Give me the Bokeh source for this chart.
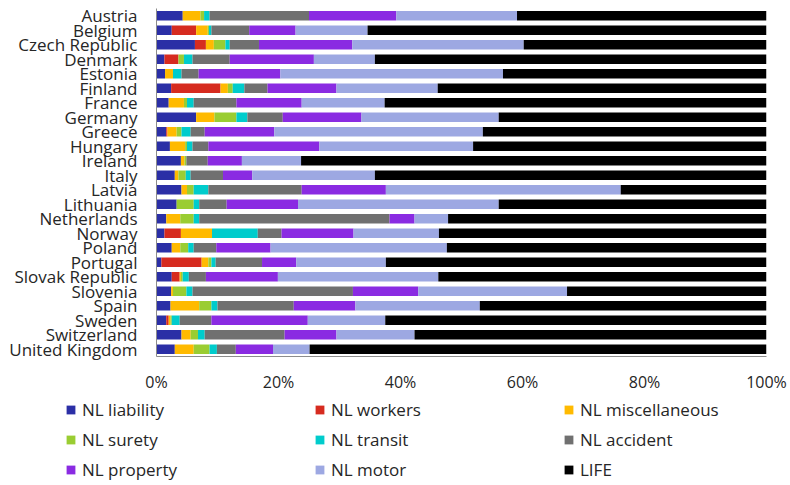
from bokeh.plotting import figure
from bokeh.models import (ColumnDataSource, FactorRange, Range1d, FixedTicker,
                          PrintfTickFormatter, Legend, LegendItem)
from bokeh.embed import file_html
from bokeh.resources import INLINE

countries = ["Austria", "Belgium", "Czech Republic", "Denmark", "Estonia", "Finland",
             "France", "Germany", "Greece", "Hungary", "Ireland", "Italy", "Latvia",
             "Lithuania", "Netherlands", "Norway", "Poland", "Portugal", "Slovak Republic",
             "Slovenia", "Spain", "Sweden", "Switzerland", "United Kingdom"]

series_names = ["NL liability", "NL workers", "NL miscellaneous", "NL surety", "NL transit",
                "NL accident", "NL property", "NL motor", "LIFE"]

nl_liability = [4.3, 2.5, 6.3, 1.3, 1.4, 2.4, 2.0, 6.5, 1.6, 2.2, 4.0, 3.0,
                4.1, 3.3, 1.6, 1.3, 2.5, 0.8, 2.5, 2.4, 2.3, 1.6, 4.1, 3.0]
nl_workers = [0.0, 4.0, 1.8, 2.3, 0.0, 8.1, 0.0, 0.0, 0.2, 0.0, 0.0, 0.0,
              0.0, 0.0, 0.0, 2.7, 0.0, 6.6, 1.3, 0.0, 0.0, 0.4, 0.0, 0.0]
nl_misc = [2.9, 1.9, 1.3, 0.0, 1.3, 1.2, 2.5, 3.0, 1.5, 2.5, 0.6, 0.6,
           0.9, 0.0, 2.3, 5.1, 1.4, 1.1, 0.2, 0.3, 4.7, 0.3, 1.5, 3.1]
nl_surety = [0.6, 0.2, 1.9, 0.9, 0.0, 0.8, 0.5, 3.6, 0.8, 0.3, 0.3, 1.2,
             1.1, 2.8, 2.2, 0.0, 1.3, 0.5, 0.3, 2.2, 2.0, 0.2, 1.2, 2.6]
nl_transit = [0.9, 0.4, 0.7, 1.4, 1.4, 1.9, 1.1, 1.8, 1.5, 0.9, 0.0, 0.8,
              2.4, 0.9, 0.9, 7.5, 0.9, 0.7, 1.0, 1.0, 1.0, 1.3, 1.1, 1.2]
nl_accident = [16.3, 6.2, 4.8, 6.1, 2.8, 3.8, 7.0, 5.8, 2.3, 2.6, 3.5, 5.3,
               15.3, 4.5, 31.2, 3.9, 3.7, 7.6, 2.8, 26.3, 12.5, 5.2, 13.1, 3.1]
nl_property = [14.3, 7.6, 15.3, 13.8, 13.4, 11.3, 10.7, 12.9, 11.4, 18.2, 5.6, 4.8,
               13.8, 11.7, 4.1, 11.8, 8.9, 5.6, 11.8, 10.7, 10.1, 15.8, 8.5, 6.1]
nl_motor = [19.8, 11.8, 28.1, 10.0, 36.5, 16.6, 13.6, 22.5, 34.2, 25.2, 9.7, 20.1,
            38.5, 32.9, 5.5, 14.0, 28.9, 14.7, 26.3, 24.4, 20.4, 12.7, 12.8, 6.0]
life = [40.9, 65.4, 39.8, 64.2, 43.2, 53.9, 62.6, 43.9, 46.5, 48.1, 76.3, 64.2,
        23.9, 43.9, 52.2, 53.7, 52.4, 62.4, 53.8, 32.7, 47.0, 62.5, 57.7, 74.9]

colors = ["#2B2FA6", "#D62B1F", "#FFBA00", "#9ACD32", "#00CCCC",
          "#707070", "#8A2BE2", "#9DA8E2", "#000000"]

tick_values = [0, 20, 40, 60, 80, 100]

keys = ["liab", "work", "misc", "sur", "tran", "acc", "prop", "mot", "life"]
data = dict(country=countries)
for k, arr in zip(keys, [nl_liability, nl_workers, nl_misc, nl_surety, nl_transit,
                         nl_accident, nl_property, nl_motor, life]):
    data[k] = arr
source = ColumnDataSource(data)

FONT = "Open Sans"
TXT = "#262626"

# ---- main chart ----
p = figure(width=790, height=395, output_backend="svg", toolbar_location=None,
           y_range=FactorRange(*countries[::-1]), x_range=Range1d(0, 100),
           min_border_left=156, min_border_right=24, min_border_top=8,
           min_border_bottom=38)

renderers = p.hbar_stack(keys, y="country", height=0.65, color=colors,
                         line_color=None, source=source)

p.xgrid.visible = False
p.ygrid.visible = False
p.outline_line_color = None
p.background_fill_color = "white"
p.border_fill_color = "white"

xa = p.xaxis[0]
xa.ticker = FixedTicker(ticks=tick_values)
xa.formatter = PrintfTickFormatter(format="%d%%")
xa.major_tick_out = 0
xa.major_tick_in = 0
xa.minor_tick_out = 0
xa.minor_tick_in = 0
xa.axis_line_color = "#8c8c8c"
xa.major_label_text_font = FONT
xa.major_label_text_font_size = "16px"
xa.major_label_text_color = TXT
xa.major_label_standoff = 14

ya = p.yaxis[0]
ya.major_tick_out = 0
ya.major_tick_in = 0
ya.axis_line_color = "#8c8c8c"
ya.major_label_text_font = FONT
ya.major_label_text_font_size = "17px"
ya.major_label_text_color = TXT
ya.major_label_standoff = 19

# ---- legend strip: same stacked series, kept out of view, only used for swatches ----
lg = figure(width=790, height=90, output_backend="svg", toolbar_location=None,
            x_range=Range1d(-20, -10), y_range=FactorRange(*countries[::-1]),
            x_axis_location=None, y_axis_location=None,
            min_border_left=0, min_border_right=0, min_border_top=0, min_border_bottom=0)
lg.xgrid.visible = False
lg.ygrid.visible = False
lg.outline_line_color = None
lg.background_fill_color = "white"
lg.border_fill_color = "white"

swatches = lg.hbar_stack(keys, y="country", height=0.65, color=colors,
                         line_color=None, source=source)

items = [LegendItem(label=n, renderers=[r]) for n, r in zip(series_names, swatches)]
legend = Legend(items=items, location=(65, 4), orientation="horizontal", ncols=3,
                glyph_width=11, glyph_height=11, label_standoff=6, label_width=225,
                label_height=20, spacing=7, padding=0, margin=0,
                border_line_color=None, background_fill_alpha=0,
                label_text_font=FONT, label_text_font_size="17px",
                label_text_color=TXT)
lg.add_layout(legend, "center")

open("out.html", "w").write(file_html([p, lg], INLINE))
